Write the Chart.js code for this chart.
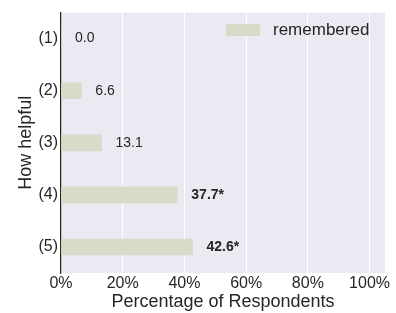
<!DOCTYPE html>
<html><head><meta charset="utf-8">
<script src="https://cdn.jsdelivr.net/npm/chart.js@4/dist/chart.umd.min.js"></script>
<style>html,body{margin:0;padding:0;background:#fff}#wrap{width:396px;height:313px}</style>
</head><body><div id="wrap"><canvas id="c" width="396" height="313"></canvas></div>
<script>
const categories = ["(1)", "(2)", "(3)", "(4)", "(5)"];
const remembered = [0.0, 6.6, 13.1, 37.7, 42.6];
const significant = [false, false, false, true, true];
const xTicks = [0, 20, 40, 60, 80, 100];
const seriesName = "remembered";
const FONT = "'Liberation Sans', Arial, sans-serif";
const BAR = "#d6dcc7";

const bgPlugin = {
  id: 'bg',
  beforeDraw(chart) {
    const {ctx, chartArea: a} = chart;
    ctx.save(); ctx.fillStyle = '#eaeaf2';
    ctx.fillRect(a.left, a.top, a.right - a.left, a.bottom - a.top);
    ctx.restore();
  }
};
const labelPlugin = {
  id: 'labels',
  afterDatasetsDraw(chart) {
    const {ctx} = chart;
    const meta = chart.getDatasetMeta(0);
    ctx.save();
    ctx.fillStyle = '#262626';
    ctx.textBaseline = 'middle';
    meta.data.forEach((bar, i) => {
      ctx.font = (significant[i] ? 'bold ' : '') + '14px ' + FONT;
      const txt = remembered[i].toFixed(1) + (significant[i] ? '*' : '');
      ctx.fillText(txt, bar.x + 14, bar.y);
    });
    // legend
    ctx.fillStyle = BAR;
    ctx.fillRect(226, 24, 34, 12);
    ctx.fillStyle = '#262626';
    ctx.font = '17px ' + FONT;
    ctx.fillText(seriesName, 273, 30);
    ctx.restore();
  }
};

new Chart(document.getElementById('c'), {
  type: 'bar',
  data: {
    labels: categories,
    datasets: [{ label: seriesName, data: remembered, backgroundColor: BAR, barThickness: 16, borderWidth: 0 }]
  },
  options: {
    indexAxis: 'y',
    responsive: false,
    animation: false,
    devicePixelRatio: 1,
    layout: { padding: { top: 8, right: 11, left: 0, bottom: 0 } },
    plugins: { legend: { display: false }, tooltip: { enabled: false } },
    scales: {
      x: {
        min: 0, max: 105,
        afterBuildTicks(s) { s.ticks = xTicks.map(v => ({ value: v })); },
        afterFit(s) { s.height = 40; },
        ticks: { callback: v => v + '%', color: '#262626', font: { family: FONT, size: 16 }, padding: 1, maxRotation: 0, autoSkip: false },
        grid: { color: '#ffffff', lineWidth: 1, drawTicks: false },
        border: { display: false },
        title: { display: true, text: 'Percentage of Respondents', color: '#262626', font: { family: FONT, size: 18 }, padding: { top: 0, bottom: 0 } }
      },
      y: {
        afterFit(s) { s.width = 61; },
        ticks: { color: '#262626', font: { family: FONT, size: 16 }, padding: 3 },
        grid: { display: false, drawTicks: false },
        border: { display: true, color: '#262626', width: 1.3 },
        title: { display: true, text: 'How helpful', color: '#262626', font: { family: FONT, size: 18 }, padding: { top: 15, bottom: 0 } }
      }
    }
  },
  plugins: [bgPlugin, labelPlugin]
});
</script></body></html>
